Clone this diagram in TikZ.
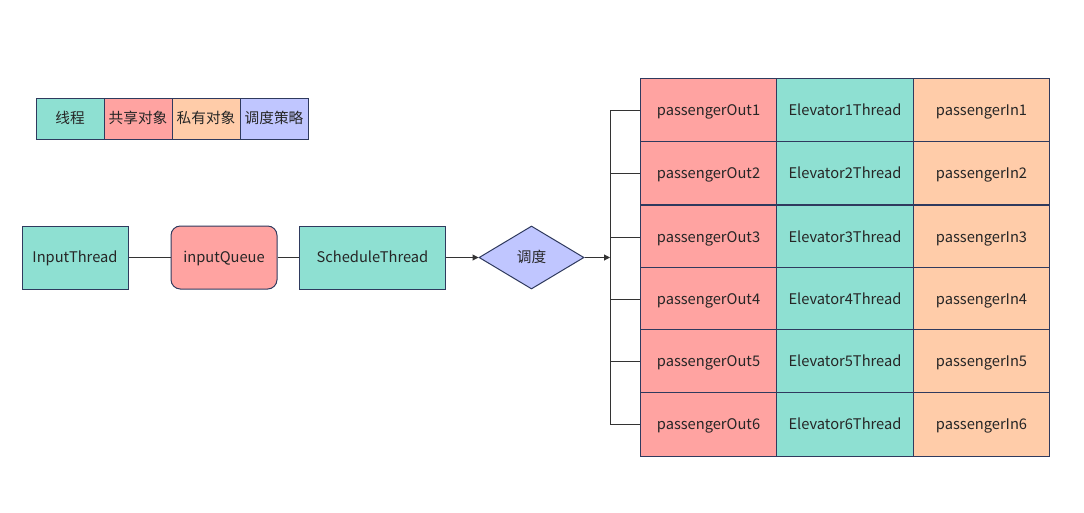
\documentclass[tikz,border=0pt]{standalone}
\usepackage{fontspec}
\setmainfont{Noto Sans CJK SC}
\usetikzlibrary{shapes.geometric,arrows.meta}
\definecolor{cteal}{HTML}{8EE0D2}
\definecolor{cpink}{HTML}{FFA3A1}
\definecolor{cpeach}{HTML}{FFCCA9}
\definecolor{clav}{HTML}{C0C6FF}
\definecolor{cedge}{HTML}{2F3A5E}
\definecolor{cline}{HTML}{333333}
\tikzset{
  box/.style={draw=cedge, line width=0.75pt, inner sep=0pt, text height=8pt, text depth=0pt, font=\fontsize{11}{13}\selectfont, text=black!85},
  cell/.style={box, minimum width=102.5pt, minimum height=47.5pt},
  leg/.style={box, minimum width=51pt, minimum height=30.75pt},
  conn/.style={draw=cline, line width=0.75pt},
  tip/.style={-{Triangle[length=4.5pt,width=4.5pt]}}
}
\begin{document}
\begin{tikzpicture}[x=0.75pt,y=-0.75pt]
\useasboundingbox (0,0) rectangle (1084,512);
% legend
\node[leg, fill=cteal] (l1) at (70,118.5) {线程};
\node[leg, fill=cpink] (l2) at (138,118.5) {共享对象};
\node[leg, fill=cpeach] (l3) at (206,118.5) {私有对象};
\node[leg, fill=clav] (l4) at (274,118.5) {调度策略};
% main row
\node[box, fill=cteal, minimum width=79.5pt, minimum height=47.25pt] (inp) at (75,257.5) {InputThread};
\node[box, fill=cpink, rounded corners=7pt, minimum width=79.5pt, minimum height=47.25pt] (q) at (224,257.5) {inputQueue};
\node[box, fill=cteal, minimum width=110pt, minimum height=47.25pt] (sch) at (372.5,257.5) {ScheduleThread};
\node[box, fill=clav, diamond, aspect=1.67, minimum width=78.75pt, minimum height=47.25pt] (dia) at (531.5,257.5) {调度};
\draw[conn] (inp) -- (q);
\draw[conn] (q) -- (sch);
\draw[conn, tip] (sch) -- (dia);
\coordinate (bus) at (610,257.5);
\draw[conn, tip] (dia.east) -- (bus);
% grid
\foreach \i/\y in {1/110, 2/173, 3/237, 4/299, 5/361.5, 6/424.5} {
  \node[cell, fill=cpink] (o\i) at (708.5,\y) {passengerOut\i};
  \node[cell, fill=cteal] (e\i) at (845,\y) {Elevator\i Thread};
  \node[cell, fill=cpeach] (p\i) at (981.5,\y) {passengerIn\i};
}
\foreach \i in {1,...,6} {
  \draw[conn] (o\i.west) -- (bus |- o\i.west);
}
\draw[conn] (bus |- o1.west) -- (bus |- o6.west);
\end{tikzpicture}
\end{document}
